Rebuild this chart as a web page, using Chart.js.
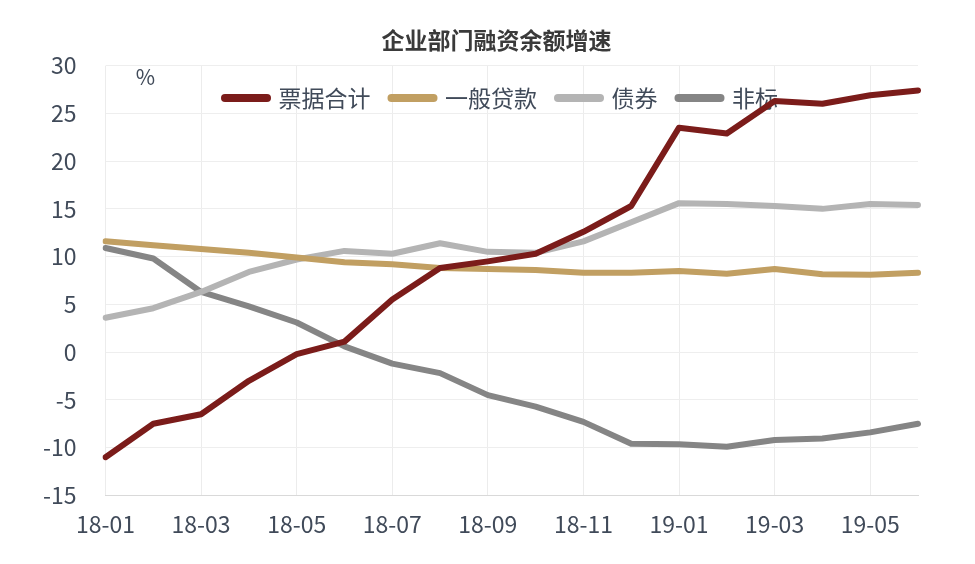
<!DOCTYPE html>
<html>
<head>
<meta charset="utf-8">
<script src="https://cdn.jsdelivr.net/npm/chart.js@4.4.1/dist/chart.umd.min.js"></script>
<style>
	html, body { margin: 0; background: #fff; }
	#wrap { width: 975px; height: 564px; }
</style>
</head>
<body>
<div id="wrap"><canvas id="financingChart"></canvas></div>
<script>
// months 2018-01 .. 2019-06, values in %
const months = ["18-01", "18-02", "18-03", "18-04", "18-05", "18-06", "18-07", "18-08", "18-09",
	"18-10", "18-11", "18-12", "19-01", "19-02", "19-03", "19-04", "19-05", "19-06"];
const billTotal = [-11.0, -7.5, -6.5, -3.0, -0.2, 1.1, 5.5, 8.8, 9.5, 10.3, 12.6, 15.3, 23.5, 22.9, 26.3, 26.0, 26.9, 27.4];
const generalLoans = [11.6, 11.2, 10.8, 10.4, 9.9, 9.4, 9.2, 8.8, 8.7, 8.6, 8.3, 8.3, 8.5, 8.2, 8.7, 8.15, 8.1, 8.3];
const bonds = [3.6, 4.6, 6.3, 8.4, 9.7, 10.6, 10.3, 11.4, 10.5, 10.4, 11.6, 13.6, 15.6, 15.5, 15.3, 15.0, 15.5, 15.4];
const nonStandard = [10.9, 9.8, 6.3, 4.8, 3.1, 0.6, -1.2, -2.2, -4.5, -5.7, -7.3, -9.6, -9.65, -9.9, -9.2, -9.05, -8.4, -7.5];
const seriesNames = ["票据合计", "一般贷款", "债券", "非标"];
const yTicks = { min: -15, max: 30, step: 5 };

const FONT = "'Noto Sans CJK SC', 'Noto Sans', sans-serif";
const TEXT = "#404a59";

let makeLine = function (label, data, color) {
	return {
		label: label,
		data: data,
		borderColor: color,
		backgroundColor: color,
		borderWidth: 6,
		borderCapStyle: "round",
		borderJoinStyle: "round",
		pointRadius: 0,
		tension: 0,
		fill: false
	};
};

// legend sits inside the plot: take no room in the layout, get its height back for drawing
let overlayLegend = {
	id: "overlayLegend",
	beforeLayout: function (chart) {
		let legend = chart.legend;
		if (legend && !legend._patched) {
			let fit = legend.fit;
			legend.fit = function () {
				fit.call(this);
				this._realHeight = this.height;
				this.height = 0;
			};
			legend._patched = true;
		}
	},
	afterLayout: function (chart) {
		let legend = chart.legend;
		legend.height = legend._realHeight;
		legend.bottom = legend.top + legend.height;
		legend.left += 71;
		chart.titleBlock.left += 61;
	}
};

let unitLabel = {
	id: "unitLabel",
	afterDraw: function (chart) {
		let ctx = chart.ctx, area = chart.chartArea;
		ctx.save();
		ctx.font = "21px " + FONT;
		ctx.fillStyle = TEXT;
		ctx.textAlign = "center";
		ctx.textBaseline = "middle";
		ctx.fillText("%", area.left + 40, area.top + 11);
		ctx.restore();
	}
};

let chart = new Chart("financingChart", {
	type: "line",
	data: {
		labels: months,
		datasets: [
			makeLine(seriesNames[0], billTotal, "#7b1c1a"),
			makeLine(seriesNames[1], generalLoans, "#c19f62"),
			makeLine(seriesNames[2], bonds, "#b4b4b4"),
			makeLine(seriesNames[3], nonStandard, "#858585")
		]
	},
	plugins: [overlayLegend, unitLabel],
	options: {
		responsive: true,
		maintainAspectRatio: false,
		animation: false,
		layout: { padding: { left: 14, right: 57, top: 0, bottom: 11 } },
		plugins: {
			tooltip: { enabled: false },
			title: {
				display: true,
				text: "企业部门融资余额增速",
				color: "#3a3a3a",
				font: { family: FONT, size: 23, weight: "bold" },
				padding: { top: 26, bottom: 12 }
			},
			legend: {
				display: true,
				position: "top",
				labels: {
					usePointStyle: true,
					pointStyle: "line",
					pointStyleWidth: 42,
					padding: 21,
					color: TEXT,
					font: { family: FONT, size: 23 },
					generateLabels: function (c) {
						return Chart.defaults.plugins.legend.labels.generateLabels(c).map(function (item) {
							item.lineWidth = 8;
							item.lineCap = "round";
							return item;
						});
					}
				}
			}
		},
		scales: {
			x: {
				offset: false,
				grid: {
					drawTicks: false,
					color: function (ctx) { return ctx.index % 2 === 0 ? "#ececec" : "rgba(0,0,0,0)"; }
				},
				border: { display: true, color: "#d9d9d9" },
				ticks: {
					autoSkip: false,
					maxRotation: 0,
					padding: 15,
					color: TEXT,
					font: { family: FONT, size: 23 },
					callback: function (value, index) { return index % 2 === 0 ? months[index] : ""; }
				}
			},
			y: {
				min: yTicks.min,
				max: yTicks.max,
				grid: { drawTicks: false, color: "#eeeeee" },
				border: { display: false },
				ticks: {
					stepSize: yTicks.step,
					padding: 29,
					color: TEXT,
					font: { family: FONT, size: 23 }
				}
			}
		}
	}
});
</script>
</body>
</html>
